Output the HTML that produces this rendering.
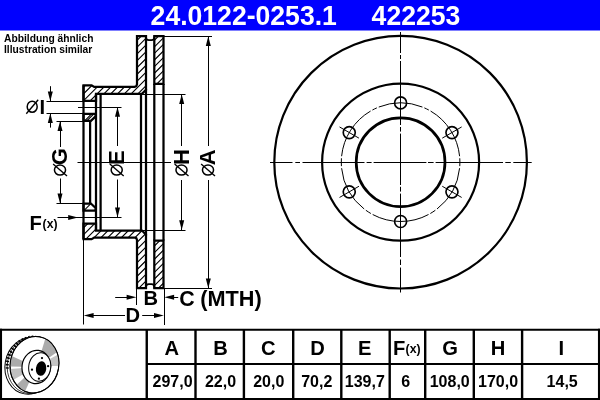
<!DOCTYPE html>
<html><head><meta charset="utf-8"><title>24.0122-0253.1</title>
<style>
html,body{margin:0;padding:0;background:#fff;}
body{width:600px;height:400px;overflow:hidden;position:relative;font-family:"Liberation Sans",sans-serif;}
svg{position:absolute;left:0;top:0;display:block;will-change:transform;}
text{font-family:"Liberation Sans",sans-serif;font-weight:bold;fill:#000;}
.k{stroke:#000;stroke-width:2.25;fill:none;stroke-linejoin:miter;stroke-linecap:butt;}
.m{stroke:#000;stroke-width:1.4;fill:none;}
.t{stroke:#000;stroke-width:1;fill:none;}
.ar{fill:#000;stroke:none;}
</style></head><body>
<svg width="600" height="400" viewBox="0 0 600 400">
<rect x="0" y="0" width="600" height="400" fill="#fff"/>

<rect x="0" y="0" width="600" height="30.5" fill="#0000ff"/>
<text transform="translate(150.60,24.70) scale(0.96,1)" font-size="27.7" style="fill:#fff">24.0122-0253.1</text>
<text transform="translate(371.60,24.70) scale(0.96,1)" font-size="27.7" style="fill:#fff">422253</text>
<text transform="translate(4.00,42.00) scale(0.96,1)" font-size="10.7">Abbildung ähnlich</text>
<text transform="translate(4.00,53.20) scale(0.96,1)" font-size="10.7">Illustration similar</text>
<clipPath id="c1"><path d="M83.50,85.25 L91.60,85.25 L94.20,86.90 L134.60,86.90 L136.30,86.20 L137.00,84.40 L137.00,36.20 L146.00,36.20 L146.00,89.80 L142.00,93.90 L96.00,93.90 L96.00,100.80 L83.50,100.80 Z"/></clipPath>
<path clip-path="url(#c1)" d="M82.50,40.50 L147.00,-24.00 M82.50,47.30 L147.00,-17.20 M82.50,54.10 L147.00,-10.40 M82.50,60.90 L147.00,-3.60 M82.50,67.70 L147.00,3.20 M82.50,74.50 L147.00,10.00 M82.50,81.30 L147.00,16.80 M82.50,88.10 L147.00,23.60 M82.50,94.90 L147.00,30.40 M82.50,101.70 L147.00,37.20 M82.50,108.50 L147.00,44.00 M82.50,115.30 L147.00,50.80 M82.50,122.10 L147.00,57.60 M82.50,128.90 L147.00,64.40 M82.50,135.70 L147.00,71.20 M82.50,142.50 L147.00,78.00 M82.50,149.30 L147.00,84.80 M82.50,156.10 L147.00,91.60 M82.50,162.90 L147.00,98.40" stroke="#000" stroke-width="1.15" fill="none"/>
<path class="k" d="M83.50,85.25 L91.60,85.25 L94.20,86.90 L134.60,86.90 L136.30,86.20 L137.00,84.40 L137.00,36.20 L146.00,36.20 L146.00,89.80 L142.00,93.90 L96.00,93.90 L96.00,100.80 L83.50,100.80 Z"/>
<clipPath id="c2"><path d="M154.30,36.20 L163.50,36.20 L163.50,83.90 L154.30,83.90 Z"/></clipPath>
<path clip-path="url(#c2)" d="M153.30,41.30 L164.50,30.10 M153.30,47.90 L164.50,36.70 M153.30,54.50 L164.50,43.30 M153.30,61.10 L164.50,49.90 M153.30,67.70 L164.50,56.50 M153.30,74.30 L164.50,63.10 M153.30,80.90 L164.50,69.70 M153.30,87.50 L164.50,76.30 M153.30,94.10 L164.50,82.90" stroke="#000" stroke-width="1.15" fill="none"/>
<path class="k" d="M154.30,36.20 L163.50,36.20 L163.50,83.90 L154.30,83.90 Z"/>
<clipPath id="c3"><path d="M83.50,113.90 L95.60,113.90 L95.60,116.40 L90.90,120.90 L83.50,120.90 Z"/></clipPath>
<path clip-path="url(#c3)" d="M82.50,123.00 L96.60,108.90 M82.50,125.20 L96.60,111.10" stroke="#000" stroke-width="1.1" fill="none"/>
<path class="k" d="M83.50,113.90 L95.60,113.90 L95.60,116.40 L90.90,120.90 L83.50,120.90 Z"/>
<path class="k" style="stroke-width:1.7" d="M146.00,36.20 L146.00,37.60 Q146.00,40.20 148.80,40.20 L151.50,40.20 Q154.30,40.20 154.30,37.60 L154.30,36.20"/>
<clipPath id="c4"><path d="M83.50,239.15 L91.60,239.15 L94.20,237.50 L134.60,237.50 L136.30,238.20 L137.00,240.00 L137.00,288.20 L146.00,288.20 L146.00,234.60 L142.00,230.50 L96.00,230.50 L96.00,223.60 L83.50,223.60 Z"/></clipPath>
<path clip-path="url(#c4)" d="M82.50,228.90 L147.00,164.40 M82.50,235.70 L147.00,171.20 M82.50,242.50 L147.00,178.00 M82.50,249.30 L147.00,184.80 M82.50,256.10 L147.00,191.60 M82.50,262.90 L147.00,198.40 M82.50,269.70 L147.00,205.20 M82.50,276.50 L147.00,212.00 M82.50,283.30 L147.00,218.80 M82.50,290.10 L147.00,225.60 M82.50,296.90 L147.00,232.40 M82.50,303.70 L147.00,239.20 M82.50,310.50 L147.00,246.00 M82.50,317.30 L147.00,252.80 M82.50,324.10 L147.00,259.60 M82.50,330.90 L147.00,266.40 M82.50,337.70 L147.00,273.20 M82.50,344.50 L147.00,280.00 M82.50,351.30 L147.00,286.80" stroke="#000" stroke-width="1.15" fill="none"/>
<path class="k" d="M83.50,239.15 L91.60,239.15 L94.20,237.50 L134.60,237.50 L136.30,238.20 L137.00,240.00 L137.00,288.20 L146.00,288.20 L146.00,234.60 L142.00,230.50 L96.00,230.50 L96.00,223.60 L83.50,223.60 Z"/>
<clipPath id="c5"><path d="M154.30,288.20 L163.50,288.20 L163.50,240.50 L154.30,240.50 Z"/></clipPath>
<path clip-path="url(#c5)" d="M153.30,247.10 L164.50,235.90 M153.30,253.70 L164.50,242.50 M153.30,260.30 L164.50,249.10 M153.30,266.90 L164.50,255.70 M153.30,273.50 L164.50,262.30 M153.30,280.10 L164.50,268.90 M153.30,286.70 L164.50,275.50 M153.30,293.30 L164.50,282.10" stroke="#000" stroke-width="1.15" fill="none"/>
<path class="k" d="M154.30,288.20 L163.50,288.20 L163.50,240.50 L154.30,240.50 Z"/>
<clipPath id="c6"><path d="M83.50,210.50 L95.60,210.50 L95.60,208.00 L90.90,203.50 L83.50,203.50 Z"/></clipPath>
<path clip-path="url(#c6)" d="M82.50,212.00 L96.60,197.90" stroke="#000" stroke-width="1.1" fill="none"/>
<path class="k" d="M83.50,210.50 L95.60,210.50 L95.60,208.00 L90.90,203.50 L83.50,203.50 Z"/>
<path class="k" style="stroke-width:1.7" d="M146.00,288.20 L146.00,286.80 Q146.00,284.20 148.80,284.20 L151.50,284.20 Q154.30,284.20 154.30,286.80 L154.30,288.20"/>
<path class="k" d="M83.50,85.25 L83.50,239.15"/>
<path class="k" d="M90.10,120.90 L90.10,203.50"/>
<path class="k" d="M96.00,93.90 L96.00,230.50"/>
<path class="k" d="M100.60,93.90 L100.60,230.50"/>
<path class="k" d="M141.00,93.90 L141.00,230.50"/>
<path class="k" d="M146.00,89.00 L146.00,235.40"/>
<path class="k" d="M154.30,83.90 L154.30,240.50"/>
<path class="k" d="M163.50,83.90 L163.50,240.50"/>
<path class="t" d="M77.5,162.50 L171,162.50"/>
<path class="t" d="M78,107.50 L121.5,107.50"/>
<path class="t" d="M76,217.50 L121.5,217.50"/>
<path class="t" d="M46.50,101.50 L93.00,101.50"/>
<path class="t" d="M46.50,113.50 L93.00,113.50"/>
<path class="t" d="M50.50,86.20 L50.50,101.30"/>
<polygon class="ar" points="50.30,101.30 47.80,91.50 52.80,91.50"/>
<path class="t" d="M50.50,113.30 L50.50,127.60"/>
<polygon class="ar" points="50.30,113.30 47.80,123.10 52.80,123.10"/>
<g transform="translate(26.50,114.00)"><ellipse cx="5.7" cy="-7.3" rx="5.0" ry="5.55" fill="none" stroke="#000" stroke-width="1.5"/><path d="M-0.2,-0.3 L11.7,-14.2" stroke="#000" stroke-width="1.35" fill="none"/><text transform="translate(13.00,0) scale(0.96,1)" font-size="21">I</text></g>
<path class="t" d="M56.50,121.50 L84.00,121.50"/>
<path class="t" d="M56.50,203.50 L84.00,203.50"/>
<path class="t" d="M60.50,121.20 L60.50,147.00"/>
<polygon class="ar" points="60.00,121.20 57.50,131.00 62.50,131.00"/>
<path class="t" d="M60.50,178.50 L60.50,203.20"/>
<polygon class="ar" points="60.00,203.20 57.50,193.40 62.50,193.40"/>
<g transform="translate(67.30,175.80) rotate(-90)"><ellipse cx="5.7" cy="-7.3" rx="5.0" ry="5.55" fill="none" stroke="#000" stroke-width="1.5"/><path d="M-0.2,-0.3 L11.7,-14.2" stroke="#000" stroke-width="1.35" fill="none"/><text transform="translate(10.50,0) scale(1,0.985)" font-size="22">G</text></g>
<path class="t" d="M117.50,107.00 L117.50,146.00"/>
<polygon class="ar" points="117.50,107.00 115.00,116.80 120.00,116.80"/>
<path class="t" d="M117.50,179.50 L117.50,217.40"/>
<polygon class="ar" points="117.50,217.40 115.00,207.60 120.00,207.60"/>
<g transform="translate(124.00,175.80) rotate(-90)"><ellipse cx="5.7" cy="-7.3" rx="5.0" ry="5.55" fill="none" stroke="#000" stroke-width="1.5"/><path d="M-0.2,-0.3 L11.7,-14.2" stroke="#000" stroke-width="1.35" fill="none"/><text transform="translate(10.70,0) scale(1,0.985)" font-size="22">E</text></g>
<path class="t" d="M142.00,94.50 L185.50,94.50"/>
<path class="t" d="M142.00,230.50 L185.50,230.50"/>
<path class="t" d="M181.50,94.30 L181.50,146.00"/>
<polygon class="ar" points="181.70,94.30 179.20,104.10 184.20,104.10"/>
<path class="t" d="M181.50,180.00 L181.50,230.10"/>
<polygon class="ar" points="181.70,230.10 179.20,220.30 184.20,220.30"/>
<g transform="translate(188.80,175.80) rotate(-90)"><ellipse cx="5.7" cy="-7.3" rx="5.0" ry="5.55" fill="none" stroke="#000" stroke-width="1.5"/><path d="M-0.2,-0.3 L11.7,-14.2" stroke="#000" stroke-width="1.35" fill="none"/><text transform="translate(10.70,0) scale(1,0.985)" font-size="22">H</text></g>
<path class="t" d="M164.00,36.50 L212.00,36.50"/>
<path class="t" d="M164.00,288.50 L212.00,288.50"/>
<path class="t" d="M208.50,36.20 L208.50,146.00"/>
<polygon class="ar" points="208.30,36.20 205.80,46.00 210.80,46.00"/>
<path class="t" d="M208.50,180.00 L208.50,288.20"/>
<polygon class="ar" points="208.30,288.20 205.80,278.40 210.80,278.40"/>
<g transform="translate(215.30,175.80) rotate(-90)"><ellipse cx="5.7" cy="-7.3" rx="5.0" ry="5.55" fill="none" stroke="#000" stroke-width="1.5"/><path d="M-0.2,-0.3 L11.7,-14.2" stroke="#000" stroke-width="1.35" fill="none"/><text transform="translate(10.50,0) scale(1,0.985)" font-size="22">A</text></g>
<path class="t" d="M57.50,217.50 L70.00,217.50"/>
<polygon class="ar" points="78.00,217.40 68.20,214.90 68.20,219.90"/>
<text transform="translate(29.60,230.40) scale(0.96,1)" font-size="21">F</text>
<text transform="translate(42.60,228.10) scale(0.96,1)" font-size="12.7">(x)</text>
<path class="t" d="M136.50,288.20 L136.50,305.00"/>
<path class="t" d="M164.50,288.20 L164.50,325.00"/>
<path class="t" d="M83.50,239.15 L83.50,324.50"/>
<path class="t" d="M115.20,297.50 L128.00,297.50"/>
<polygon class="ar" points="136.40,297.20 126.60,294.70 126.60,299.70"/>
<path class="t" d="M173.00,297.50 L178.20,297.50"/>
<polygon class="ar" points="164.30,297.20 174.10,294.70 174.10,299.70"/>
<text transform="translate(143.40,305.30) scale(0.96,1)" font-size="21">B</text>
<text transform="translate(179.20,306.10) scale(0.96,1)" font-size="22.3">C</text>
<text transform="translate(200.30,306.30) scale(0.96,1)" font-size="22.6">(MTH)</text>
<path class="t" d="M92.00,315.50 L125.00,315.50"/>
<polygon class="ar" points="83.80,315.40 93.60,312.90 93.60,317.90"/>
<path class="t" d="M142.20,315.50 L155.00,315.50"/>
<polygon class="ar" points="163.80,315.40 154.00,312.90 154.00,317.90"/>
<text transform="translate(125.40,322.00) scale(0.96,1)" font-size="21">D</text>
<circle class="k" cx="400.60" cy="162.20" r="126.3" style="stroke-width:2.2"/>
<circle class="k" cx="400.60" cy="162.20" r="78.5" style="stroke-width:2.2"/>
<circle class="k" cx="400.60" cy="162.20" r="44.4" style="stroke-width:2.7"/>
<path class="t" d="M378.77,107.06 A59.30,59.30 0 0 1 422.43,107.06 M424.34,107.86 A59.30,59.30 0 0 1 428.80,110.04 M430.61,111.05 A59.30,59.30 0 0 1 459.60,156.21 M459.77,158.27 A59.30,59.30 0 0 1 459.77,166.13 M459.60,168.19 A59.30,59.30 0 0 1 437.03,208.99 M435.37,210.24 A59.30,59.30 0 0 1 430.34,213.50 M428.53,214.51 A59.30,59.30 0 0 1 372.67,214.51 M370.86,213.50 A59.30,59.30 0 0 1 365.83,210.24 M364.17,208.99 A59.30,59.30 0 0 1 341.60,168.19 M341.43,166.13 A59.30,59.30 0 0 1 341.43,158.27 M341.60,156.21 A59.30,59.30 0 0 1 370.59,111.05 M372.40,110.04 A59.30,59.30 0 0 1 376.86,107.86"/>
<circle class="m" cx="400.60" cy="102.90" r="6.0" style="stroke-width:1.65"/>
<circle class="m" cx="349.24" cy="132.55" r="6.0" style="stroke-width:1.65"/>
<path class="t" d="M358.94,138.15 L339.55,126.95"/>
<circle class="m" cx="349.24" cy="191.85" r="6.0" style="stroke-width:1.65"/>
<path class="t" d="M358.94,186.25 L339.55,197.45"/>
<circle class="m" cx="400.60" cy="221.50" r="6.0" style="stroke-width:1.65"/>
<circle class="m" cx="451.96" cy="191.85" r="6.0" style="stroke-width:1.65"/>
<path class="t" d="M442.26,186.25 L461.65,197.45"/>
<circle class="m" cx="451.96" cy="132.55" r="6.0" style="stroke-width:1.65"/>
<path class="t" d="M442.26,138.15 L461.65,126.95"/>
<path class="t" d="M270.00,162.50 L292.50,162.50 M295.30,162.50 L300.00,162.50 M302.50,162.50 L364.50,162.50 M366.60,162.50 L371.60,162.50 M373.60,162.50 L426.40,162.50 M428.00,162.50 L433.60,162.50 M435.60,162.50 L503.00,162.50 M505.30,162.50 L510.80,162.50 M513.30,162.50 L531.70,162.50"/>
<path class="t" d="M400.50,32.00 L400.50,53.00 M400.50,55.00 L400.50,59.00 M400.50,61.00 L400.50,125.00 M400.50,127.00 L400.50,131.60 M400.50,133.60 L400.50,185.00 M400.50,186.80 L400.50,191.60 M400.50,193.60 L400.50,257.00 M400.50,259.50 L400.50,265.00 M400.50,267.50 L400.50,292.50"/>
<path d="M0,329.75 L600,329.75 M0,399 L600,399" stroke="#000" stroke-width="2.1" fill="none"/>
<path d="M1,328.7 L1,400 M599,328.7 L599,400" stroke="#000" stroke-width="2.1" fill="none"/>
<path d="M146.75,329.75 L146.75,399.00" stroke="#000" stroke-width="2.4" fill="none"/>
<path d="M195.50,329.75 L195.50,399.00" stroke="#000" stroke-width="2.4" fill="none"/>
<path d="M243.90,329.75 L243.90,399.00" stroke="#000" stroke-width="2.4" fill="none"/>
<path d="M293.20,329.75 L293.20,399.00" stroke="#000" stroke-width="2.4" fill="none"/>
<path d="M341.30,329.75 L341.30,399.00" stroke="#000" stroke-width="2.4" fill="none"/>
<path d="M389.70,329.75 L389.70,399.00" stroke="#000" stroke-width="2.4" fill="none"/>
<path d="M425.20,329.75 L425.20,399.00" stroke="#000" stroke-width="2.4" fill="none"/>
<path d="M473.80,329.75 L473.80,399.00" stroke="#000" stroke-width="2.4" fill="none"/>
<path d="M522.10,329.75 L522.10,399.00" stroke="#000" stroke-width="2.4" fill="none"/>
<path d="M146.75,364.00 L599.00,364.00" stroke="#000" stroke-width="2.2" fill="none"/>
<text transform="translate(171.85,354.90) scale(0.96,1)" font-size="21" text-anchor="middle">A</text>
<text transform="translate(172.55,386.80) scale(0.96,1)" font-size="16.7" text-anchor="middle">297,0</text>
<text transform="translate(220.55,354.90) scale(0.96,1)" font-size="21" text-anchor="middle">B</text>
<text transform="translate(220.55,386.80) scale(0.96,1)" font-size="16.7" text-anchor="middle">22,0</text>
<text transform="translate(268.35,354.90) scale(0.96,1)" font-size="21" text-anchor="middle">C</text>
<text transform="translate(268.75,386.80) scale(0.96,1)" font-size="16.7" text-anchor="middle">20,0</text>
<text transform="translate(317.55,354.90) scale(0.96,1)" font-size="21" text-anchor="middle">D</text>
<text transform="translate(316.75,386.80) scale(0.96,1)" font-size="16.7" text-anchor="middle">70,2</text>
<text transform="translate(364.80,354.90) scale(0.96,1)" font-size="21" text-anchor="middle">E</text>
<text transform="translate(364.80,386.80) scale(0.96,1)" font-size="16.7" text-anchor="middle">139,7</text>
<text transform="translate(392.90,354.90) scale(0.96,1)" font-size="21">F</text>
<text transform="translate(405.60,353.20) scale(0.96,1)" font-size="12.8">(x)</text>
<text transform="translate(405.60,386.80) scale(0.96,1)" font-size="16.7" text-anchor="middle">6</text>
<text transform="translate(450.10,354.90) scale(0.96,1)" font-size="21" text-anchor="middle">G</text>
<text transform="translate(449.70,386.80) scale(0.96,1)" font-size="16.7" text-anchor="middle">108,0</text>
<text transform="translate(498.00,354.90) scale(0.96,1)" font-size="21" text-anchor="middle">H</text>
<text transform="translate(498.10,386.80) scale(0.96,1)" font-size="16.7" text-anchor="middle">170,0</text>
<text transform="translate(561.35,354.90) scale(0.96,1)" font-size="21" text-anchor="middle">I</text>
<text transform="translate(562.15,386.80) scale(0.96,1)" font-size="16.7" text-anchor="middle">14,5</text>
<g>
<clipPath id="face"><ellipse cx="34.5" cy="364.7" rx="24.3" ry="28.4" transform="rotate(10 34.5 364.7)"/></clipPath>
<ellipse cx="29.3" cy="365.9" rx="24.3" ry="28.4" transform="rotate(10 29.3 365.9)" fill="#fff" stroke="#000" stroke-width="1"/>
<clipPath id="ventclip"><rect x="0" y="330" width="39" height="43"/></clipPath>
<ellipse cx="31.6" cy="365.4" rx="24.3" ry="28.4" transform="rotate(10 31.6 365.4)" fill="none" stroke="#000" stroke-width="0.7"/>
<ellipse cx="31.6" cy="365.4" rx="24.3" ry="28.4" transform="rotate(10 31.6 365.4)" fill="none" stroke="#000" stroke-width="3.0" stroke-dasharray="1.6 1.8" clip-path="url(#ventclip)"/>
<ellipse cx="34.5" cy="364.7" rx="24.3" ry="28.4" transform="rotate(10 34.5 364.7)" fill="#fff" stroke="#000" stroke-width="1"/>
<g clip-path="url(#face)" fill="#ababab">
<path d="M37,366 L45.5,338 L60,350 Z"/>
<path d="M37,366 L60,353.5 L61,366 Z" fill="#c4c4c4"/>
<path d="M36,367 L6,353.5 L5,366.5 Z"/>
<path d="M36,367 L5,369.5 L8,383 Z" fill="#c0c0c0"/>
<path d="M36,367 L12,389 L23,396 Z"/>
</g>
<ellipse cx="34.5" cy="364.7" rx="24.3" ry="28.4" transform="rotate(10 34.5 364.7)" fill="none" stroke="#000" stroke-width="1"/>
<ellipse cx="36.3" cy="367" rx="14.3" ry="16.7" transform="rotate(8 36.3 367)" fill="#fff" stroke="#000" stroke-width="1.2"/>
<ellipse cx="39.7" cy="367" rx="11" ry="14.4" transform="rotate(8 39.7 367)" fill="#fff" stroke="#000" stroke-width="1"/>
<ellipse cx="41.1" cy="368.6" rx="5.2" ry="7.3" transform="rotate(8 41.1 368.6)" fill="#000"/>
<circle cx="42" cy="358.1" r="1.15" fill="#000"/>
<circle cx="48.1" cy="366.2" r="1.15" fill="#000"/>
<circle cx="38.9" cy="378.7" r="1.15" fill="#000"/>
<circle cx="32" cy="369.7" r="1.15" fill="#000"/>
</g>
</svg></body></html>
